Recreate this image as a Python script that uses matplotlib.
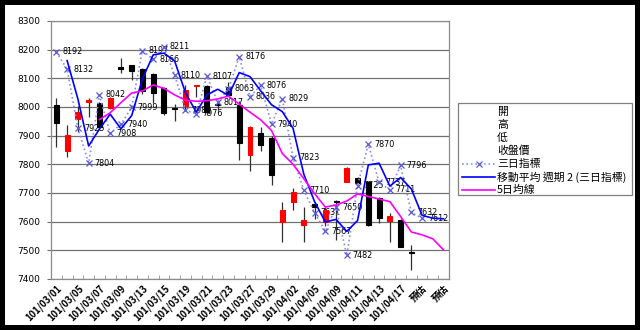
import matplotlib
matplotlib.use('Agg')
import matplotlib.pyplot as plt
import matplotlib.transforms as mtransforms
from matplotlib.lines import Line2D
from matplotlib.patches import Rectangle
import numpy as np

plt.rcParams['font.family'] = ['Noto Sans CJK TC', 'DejaVu Sans']

# trading days (ROC calendar) + three forecast slots
dates = ['101/03/01', '101/03/02', '101/03/05', '101/03/06', '101/03/07', '101/03/08',
         '101/03/09', '101/03/12', '101/03/13', '101/03/14', '101/03/15', '101/03/16',
         '101/03/19', '101/03/20', '101/03/21', '101/03/22', '101/03/23', '101/03/26',
         '101/03/27', '101/03/28', '101/03/29', '101/03/30', '101/04/02', '101/04/03',
         '101/04/05', '101/04/06', '101/04/09', '101/04/10', '101/04/11', '101/04/12',
         '101/04/13', '101/04/16', '101/04/17', '101/04/18', '預估', '預估', '預估']

open_ = [8007, 7848, 7957, 8018, 8015, 7995, 8140, 8145, 8132, 8115, 8066, 7998,
         8002, 8074, 8072, 8010, 8070, 8007, 7833, 7908, 7893, 7600, 7670, 7590,
         7662, 7600, 7672, 7740, 7752, 7738, 7682, 7602, 7606, 7493]
high = [8031, 7937, 8003, 8030, 8018, 8035, 8172, 8147, 8135, 8120, 8070, 8012,
        8077, 8078, 8077, 8015, 8087, 8020, 7935, 7930, 7898, 7670, 7718, 7652,
        7668, 7652, 7677, 7790, 7755, 7740, 7685, 7630, 7608, 7520]
low = [7861, 7827, 7914, 7965, 7920, 7993, 8118, 8094, 8045, 8015, 7972, 7950,
       7985, 8035, 7972, 7990, 8040, 7815, 7775, 7845, 7728, 7530, 7642, 7530,
       7608, 7585, 7536, 7738, 7732, 7585, 7595, 7530, 7510, 7432]
close = [7943, 7902, 7984, 8024, 7930, 8032, 8134, 8125, 8055, 8050, 7980, 7992,
         8058, 8077, 7983, 8006, 8042, 7876, 7930, 7868, 7762, 7640, 7705, 7605,
         7650, 7640, 7668, 7787, 7735, 7588, 7613, 7620, 7512, 7489]

# 三日指標
idx3 = [8192, 8132, 7925, 7804, 8042, 7908, 7940, 7999, 8197, 8166, 8211, 8110,
        7989, 7976, 8107, 8017, 8063, 8176, 8036, 8076, 7940, 8029, 7823, 7710,
        7631, 7567, 7650, 7482, 7725, 7870, 7737, 7711, 7796, 7632, 7612]

# 移動平均 週期 2 (三日指標)
ma2 = [np.nan, 8162, 8028, 7864, 7923, 7975, 7924, 7970, 8098, 8182, 8188, 8160,
       8050, 7982, 8042, 8062, 8040, 8120, 8106, 8056, 8008, 7984, 7926, 7766,
       7670, 7599, 7608, 7566, 7604, 7798, 7804, 7724, 7754, 7714, 7622, 7612, 7610]

# 5日均線
ma5 = [np.nan, np.nan, np.nan, np.nan, 7956, 7980, 8015, 8049, 8056, 8077, 8065,
       8042, 8024, 8020, 8022, 8028, 8038, 8010, 7982, 7955, 7918, 7838, 7800,
       7750, 7698, 7651, 7658, 7672, 7697, 7688, 7679, 7670, 7618, 7564, 7554,
       7540, 7501]

legend_labels = ['開', '高', '低', '收盤價', '三日指標', '移動平均 週期 2 (三日指標)', '5日均線']

n = len(dates)
x = np.arange(n)
xc = np.arange(len(close))

W, H = 640, 330
fig = plt.figure(figsize=(6.4, 3.3), dpi=100)
fig.patch.set_facecolor('black')
# pixel coords (origin top-left) -> figure fraction
pix = mtransforms.Affine2D().scale(1 / W, -1 / H).translate(0, 1) + fig.transFigure

fig.add_artist(Rectangle((5, 5), 630, 320, transform=pix, facecolor='white',
                         edgecolor='none', zorder=-1))

ax = fig.add_axes([51 / W, 1 - 279 / H, 398 / W, 258 / H])

# candles: red up, black down
o = np.array(open_)
c = np.array(close)
up = c >= o
cols = np.where(up, '#ff0000', '#000000')
ax.vlines(xc, low, high, color='#303030', lw=0.9, zorder=3)
ax.bar(xc, np.abs(c - o), bottom=np.minimum(o, c), width=0.46,
       color=cols, edgecolor=cols, lw=0.8, zorder=4)

ax.plot(np.arange(len(idx3)), idx3, ls=':', color='#8c8cf0', lw=1.2,
        marker='x', ms=4, mec='#5a5ad2', mew=0.9, zorder=5)
for i, v in enumerate(idx3):
    ax.annotate(str(v), (i, v), xytext=(6, 0), textcoords='offset pixels',
                ha='left', va='center', fontsize=5.8, family='DejaVu Sans',
                color='black', zorder=2)

ax.plot(x, ma2, color='#0000ff', lw=1.2, zorder=6)
ax.plot(x, ma5, color='#ff00ff', lw=1.2, zorder=6)

ax.set_xlim(-0.5, n - 0.5)
ax.set_ylim(7400, 8300)
ax.set_yticks(np.arange(7400, 8301, 100))
ax.set_yticklabels([str(v) for v in range(7400, 8301, 100)],
                   fontsize=6.5, family='DejaVu Sans')
ax.yaxis.grid(True, color='#707070', lw=0.9)
ax.set_axisbelow(True)
ax.tick_params(axis='y', length=3, color='#707070', pad=5)

ax.set_xticks(x[::2])
ax.set_xticklabels(dates[::2], rotation=45, ha='right', rotation_mode='anchor',
                   fontsize=6.8, fontweight='bold')
shift = mtransforms.ScaledTranslation(-8 / 100, 0, fig.dpi_scale_trans)
for lab in ax.get_xticklabels():
    lab.set_transform(lab.get_transform() + shift)
ax.set_xticks(np.arange(-0.5, n, 1), minor=True)
ax.tick_params(axis='x', which='major', length=0, pad=3)
ax.tick_params(axis='x', which='minor', length=3, direction='in', color='#909090')

for s in ax.spines.values():
    s.set_color('#8c8c8c')
    s.set_linewidth(0.9)

# legend box drawn by hand so the blank stock entries keep even rows
fig.add_artist(Rectangle((458, 103), 174, 92, transform=pix, facecolor='white',
                         edgecolor='#808080', lw=0.9))
row0, pitch = 111.5, 13.05
for k, lab in enumerate(legend_labels):
    y = row0 + k * pitch
    fig.text(497 / W, 1 - y / H, lab, fontsize=7.8, ha='left', va='center')
    if k == 4:
        fig.add_artist(Line2D([462, 495], [y, y], transform=pix, ls=':',
                              color='#8c8cf0', lw=1.2))
        fig.add_artist(Line2D([478.5], [y], transform=pix, ls='none', marker='x',
                              ms=4, mec='#5a5ad2', mew=0.9))
    elif k == 5:
        fig.add_artist(Line2D([462, 495], [y, y], transform=pix, color='#0000ff', lw=1.2))
    elif k == 6:
        fig.add_artist(Line2D([462, 495], [y, y], transform=pix, color='#ff00ff', lw=1.2))

fig.savefig('out.png', dpi=100)
